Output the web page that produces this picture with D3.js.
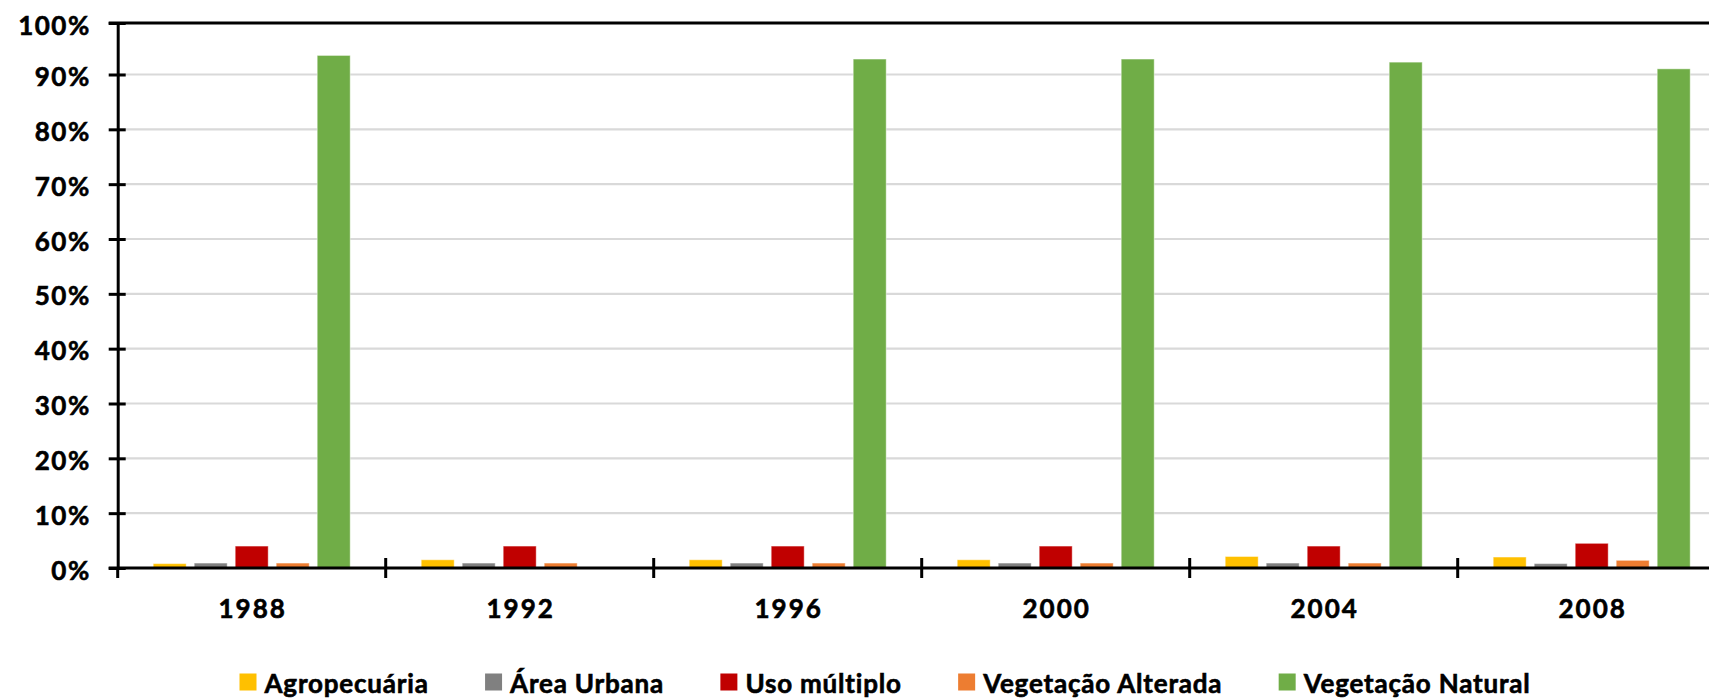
<!DOCTYPE html>
<html>
<head>
<meta charset="utf-8">
<script src="https://cdn.jsdelivr.net/npm/d3@7/dist/d3.min.js"></script>
<style>
  html, body { margin: 0; padding: 0; background: #fff; }
  svg { display: block; }
  text { font-family: Lato, "Open Sans", sans-serif; font-weight: bold; fill: #000; stroke: #000; stroke-width: 0.6px; }
</style>
</head>
<body>
<svg id="chart" width="1709" height="699"></svg>
<script>
// Land use share by year (% of area)
const years = ["1988", "1992", "1996", "2000", "2004", "2008"];
const seriesNames = ["Agropecuária", "Área Urbana", "Uso múltiplo", "Vegetação Alterada", "Vegetação Natural"];
const seriesColors = ["#FFC000", "#808080", "#C00000", "#ED7D31", "#70AD47"];
const agropecuaria = [0.8, 1.5, 1.5, 1.5, 2.1, 2.0];
const areaUrbana = [0.9, 0.9, 0.9, 0.9, 0.9, 0.8];
const usoMultiplo = [4.0, 4.0, 4.0, 4.0, 4.0, 4.5];
const vegetacaoAlterada = [0.9, 0.9, 0.9, 0.9, 0.9, 1.4];
const vegetacaoNatural = [93.7, null, 93.0, 93.0, 92.4, 91.1];
const yTicks = [0, 10, 20, 30, 40, 50, 60, 70, 80, 90, 100];
const yTickLabels = ["0%", "10%", "20%", "30%", "40%", "50%", "60%", "70%", "80%", "90%", "100%"];

const seriesValues = [agropecuaria, areaUrbana, usoMultiplo, vegetacaoAlterada, vegetacaoNatural];

const svg = d3.select("#chart");
const W = 1709;
const left = 117.7, bandStep = 268;
const y0 = 568;

const x0 = d3.scaleBand().domain(years).range([left, left + bandStep * years.length]).padding(0);
const groupW = 197;
const x1 = d3.scaleBand().domain(seriesNames).range([0, groupW]).paddingInner(8 / 41).paddingOuter(0);
const y = d3.scaleLinear().domain([0, 90, 100]).range([y0, 74.5, 23]);

// gridlines
svg.append("g").selectAll("line")
  .data(yTicks.filter(t => t > 0 && t < 100))
  .join("line")
  .attr("x1", left).attr("x2", W)
  .attr("y1", d => y(d)).attr("y2", d => y(d))
  .attr("stroke", "#D9D9D9").attr("stroke-width", 2.2);

// bars
const groups = svg.append("g").selectAll("g")
  .data(years)
  .join("g")
  .attr("transform", d => `translate(${x0(d) + (x0.bandwidth() - groupW) / 2},0)`);

groups.selectAll("rect")
  .data((yr, i) => seriesNames.map((s, k) => ({ s, k, v: seriesValues[k][i] })).filter(d => d.v != null))
  .join("rect")
  .attr("x", d => x1(d.s))
  .attr("width", x1.bandwidth())
  .attr("y", d => y(d.v))
  .attr("height", d => y0 - y(d.v))
  .attr("fill", d => seriesColors[d.k])
  .attr("stroke", "#fff").attr("stroke-opacity", 0.45).attr("stroke-width", 1);

// top border of plot area
svg.append("line")
  .attr("x1", left - 9).attr("x2", W)
  .attr("y1", y(100)).attr("y2", y(100))
  .attr("stroke", "#000").attr("stroke-width", 3);

// y axis
const yAxis = d3.axisLeft(y).tickValues(yTicks).tickSizeInner(-8).tickSizeOuter(0)
  .tickFormat((d, i) => yTickLabels[i]);
const gy = svg.append("g").attr("transform", `translate(${left},0)`).call(yAxis);
gy.select(".domain").attr("stroke", "#000").attr("stroke-width", 3);
gy.selectAll(".tick line").attr("x1", -9).attr("x2", 8).attr("stroke", "#000").attr("stroke-width", 3);
gy.selectAll(".tick text")
  .attr("x", -27).attr("dy", null).attr("y", 11)
  .attr("font-size", 26).attr("font-family", "Lato, sans-serif").attr("font-weight", "bold")
  .attr("letter-spacing", 1.5)
  .attr("fill", "#000");

// x axis
const boundaries = years.map(d => x0(d)).concat([x0(years[years.length - 1]) + x0.bandwidth()]);
const gx = svg.append("g");
gx.append("line")
  .attr("x1", left - 9).attr("x2", W)
  .attr("y1", y0).attr("y2", y0)
  .attr("stroke", "#000").attr("stroke-width", 3);
gx.selectAll("line.tk")
  .data(boundaries)
  .join("line").attr("class", "tk")
  .attr("x1", d => d).attr("x2", d => d)
  .attr("y1", (d, i) => i === 0 ? y0 : y0 - 10).attr("y2", y0 + 10)
  .attr("stroke", "#000").attr("stroke-width", 3);
gx.selectAll("text")
  .data(years)
  .join("text")
  .attr("x", d => x0(d) + x0.bandwidth() / 2 + 1)
  .attr("y", 618)
  .attr("text-anchor", "middle")
  .attr("font-size", 26)
  .attr("letter-spacing", 2)
  .text(d => d);

// legend
const legend = svg.append("g");
const items = legend.selectAll("g").data(seriesNames).join("g");
items.append("rect").attr("width", 17).attr("height", 17).attr("y", 673.5)
  .attr("fill", (d, i) => seriesColors[i]);
items.append("text").attr("x", 25).attr("y", 693).attr("font-size", 26)
  .attr("letter-spacing", 0.8).text(d => d);
const widths = [];
items.each(function () { widths.push(25 + this.querySelector("text").getComputedTextLength()); });
const legStart = 239.5, legEnd = 1530.5;
const gap = (legEnd - legStart - d3.sum(widths)) / (widths.length - 1);
let cx = legStart;
items.attr("transform", (d, i) => { const t = `translate(${cx},0)`; cx += widths[i] + gap; return t; });
</script>
</body>
</html>
